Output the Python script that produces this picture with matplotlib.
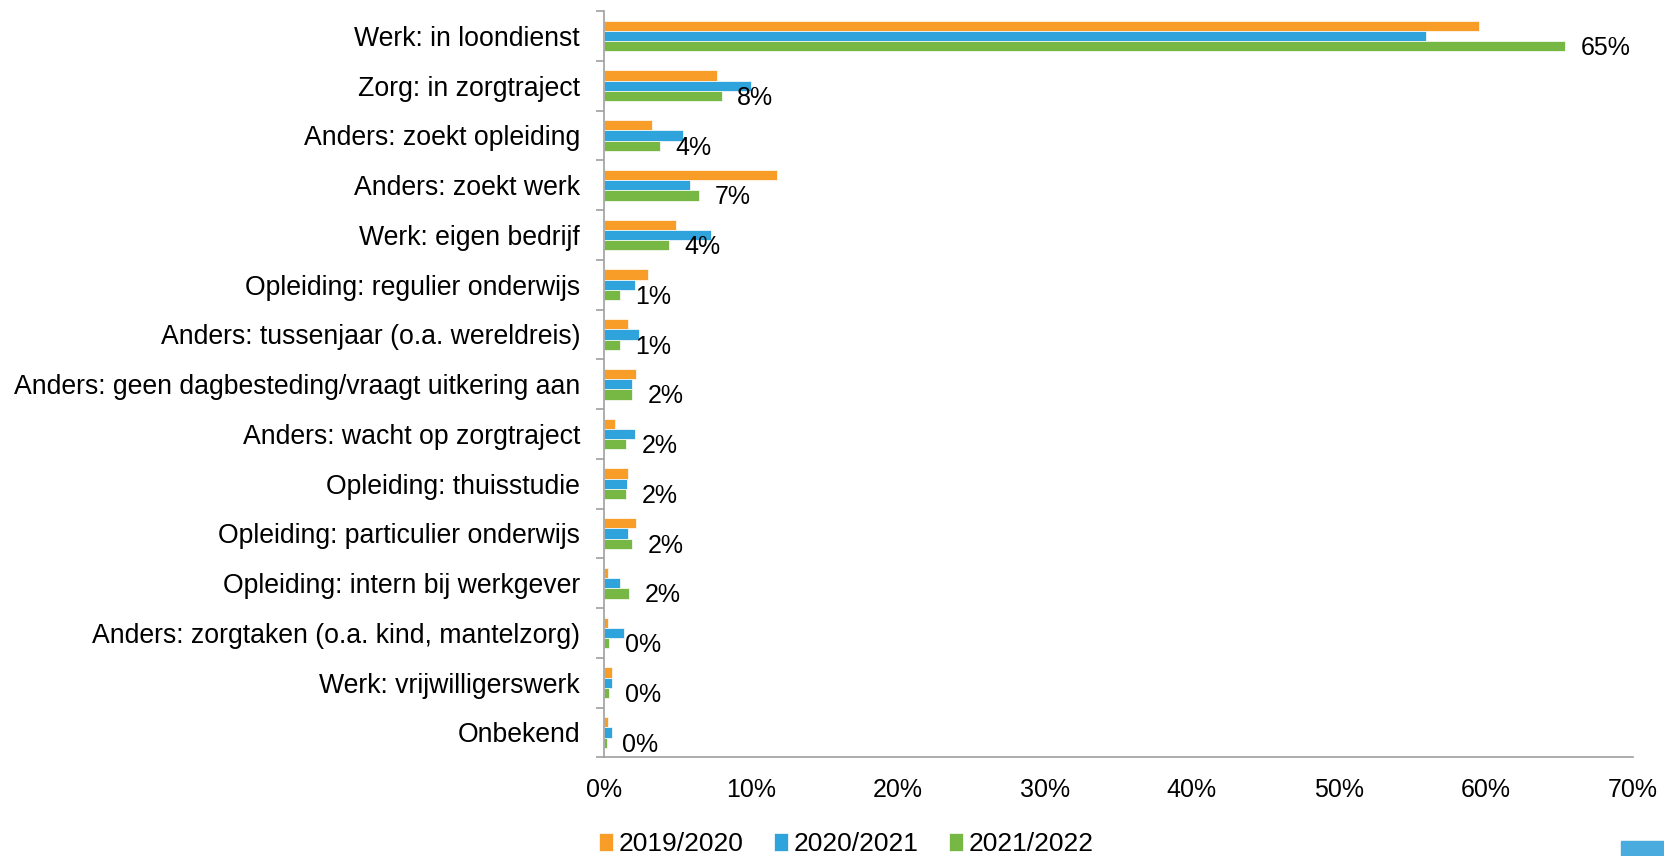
import numpy as np
import matplotlib
matplotlib.use("Agg")
import matplotlib.pyplot as plt
from matplotlib.patches import Rectangle

plt.rcParams['font.family'] = ['Liberation Sans', 'DejaVu Sans']

# categorieen (van boven naar beneden)
categorieen = [
    "Werk: in loondienst",
    "Zorg: in zorgtraject",
    "Anders: zoekt opleiding",
    "Anders: zoekt werk",
    "Werk: eigen bedrijf",
    "Opleiding: regulier onderwijs",
    "Anders: tussenjaar (o.a. wereldreis)",
    "Anders: geen dagbesteding/vraagt uitkering aan",
    "Anders: wacht op zorgtraject",
    "Opleiding: thuisstudie",
    "Opleiding: particulier onderwijs",
    "Opleiding: intern bij werkgever",
    "Anders: zorgtaken (o.a. kind, mantelzorg)",
    "Werk: vrijwilligerswerk",
    "Onbekend",
]

# percentages per schooljaar
jaar_2019 = [59.5, 7.7, 3.3, 11.8, 4.9, 3.0, 1.65, 2.2, 0.8, 1.65, 2.2, 0.27, 0.27, 0.56, 0.3]
jaar_2020 = [55.9, 10.0, 5.4, 5.9, 7.3, 2.15, 2.4, 1.9, 2.15, 1.6, 1.63, 1.1, 1.36, 0.56, 0.57]
jaar_2021 = [65.4, 8.05, 3.83, 6.48, 4.42, 1.13, 1.13, 1.93, 1.54, 1.54, 1.93, 1.72, 0.38, 0.38, 0.23]

# labels bij de laatste reeks
labels_2021 = ["65%", "8%", "4%", "7%", "4%", "1%", "1%", "2%", "2%", "2%", "2%", "2%", "0%", "0%", "0%"]

reeksen = ["2019/2020", "2020/2021", "2021/2022"]
kleuren = ["#F79D28", "#2FA3DB", "#77B743"]

fig = plt.figure(figsize=(16.65, 8.56), dpi=100)
ax = fig.add_axes([603.7 / 1665, 1 - 757.3 / 856, (1633 - 603.7) / 1665, (757.3 - 11) / 856])

y = np.arange(len(categorieen))
h = 0.206
for i, (waarden, kleur, naam) in enumerate(zip([jaar_2019, jaar_2020, jaar_2021], kleuren, reeksen)):
    ax.barh(y + (i - 1) * h, waarden, height=h, color=kleur, edgecolor="white",
            linewidth=0.5, label=naam)

for yi, w, lab in zip(y, jaar_2021, labels_2021):
    ax.annotate(lab, (w, yi + h), xytext=(11, -1.5), textcoords="offset points",
                ha="left", va="center", fontsize=18)

ax.set_xlim(0, 70)
ax.set_ylim(len(categorieen) - 0.5, -0.5)
ax.set_xticks(np.arange(0, 71, 10))
ax.set_xticklabels([f"{v}%" for v in range(0, 71, 10)], fontsize=18)
ax.set_yticks(y)
ax.set_yticklabels(categorieen, fontsize=19.2)
ax.set_yticks(np.arange(-0.5, len(categorieen), 1), minor=True)
ax.tick_params(axis="y", which="major", length=0, pad=17)
ax.tick_params(axis="y", which="minor", length=5.8, color="#A0A0A0", width=1.2)
ax.tick_params(axis="x", length=0, pad=15)

for kant in ["top", "right"]:
    ax.spines[kant].set_visible(False)
for kant in ["left", "bottom"]:
    ax.spines[kant].set_color("#A0A0A0")
    ax.spines[kant].set_linewidth(1.2)

fig.legend(loc="center", bbox_to_anchor=(0.5084, 0.014), ncol=3, frameon=False,
           fontsize=19.0, handlelength=0.51, handleheight=0.7, handletextpad=0.24,
           columnspacing=1.15)

# blauw blokje rechtsonder
fig.patches.append(Rectangle((1621 / 1665, 0), 44 / 1665, 15.3 / 856,
                             transform=fig.transFigure, color="#4AABDE", zorder=0))

fig.savefig("out.png", dpi=100)
